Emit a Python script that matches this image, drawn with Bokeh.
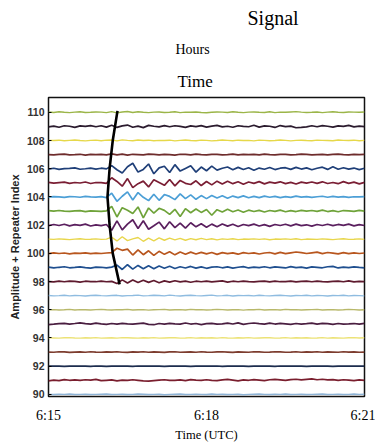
from bokeh.plotting import figure
from bokeh.models import Range1d, FixedTicker, Title
from bokeh.embed import file_html
from bokeh.resources import INLINE

# time samples (minutes after 6:15 UTC)
times = [i / 10 for i in range(61)]
x_ticks = [0, 3, 6]
x_tick_labels = {0: "6:15", 3: "6:18", 6: "6:21"}
y_ticks = [90, 92, 94, 96, 98, 100, 102, 104, 106, 108, 110]
gain = 0.012

# repeater index (trace baseline) and colour
indices = [110, 109, 108, 107, 106, 105, 104, 103, 102, 101, 100,
           99, 98, 97, 96, 95, 94, 93, 92, 91, 90]
colors = ["#9bb548", "#2b1b2e", "#e6d84a", "#6e2c2c", "#1f3f78", "#7a1e34",
          "#4c9fd6", "#6fa33a", "#5a1f5e", "#e8d64c", "#b8561e", "#1f4f8f",
          "#5e1a2e", "#8fbce0", "#b8b86a", "#4a1e40", "#ece276", "#7d3c2e",
          "#1c2c4e", "#7a1e2e", "#8fb4d6"]

t110 = [2,-1,3,0,-2,1,3,-1,0,2, 1,-2,4,-3,2,5,-1,3,0,-2, 1,2,-1,0,3,-2,1,0,2,-1,
        -3,0,2,1,-1,3,0,-2,1,2, 0,-1,3,-2,1,0,2,4,1,-1, 0,2,-2,1,3,0,-1,2,1,0, 2]
t109 = [-3,2,-5,4,1,-6,3,0,5,-2, 4,-4,7,-6,3,8,-5,2,-7,6, 1,-3,5,-2,4,0,-6,3,-1,5,
        -4,2,6,-3,1,-5,4,0,-2,7, -4,3,1,-6,5,-1,2,-8,-6,-3, 4,-2,5,1,-4,3,0,6,-3,2, -1]
t108 = [1,0,2,-1,1,3,0,-2,1,2, -1,2,3,-2,4,1,-1,3,0,2, -1,1,0,2,-2,1,3,0,-1,2,
        1,-2,0,3,1,-1,2,0,1,-2, 2,1,-1,0,3,1,-2,1,2,0, -1,2,1,0,-1,3,1,0,2,-1, 1]
t107 = [0,-2,1,3,-1,0,2,-3,1,0, 2,-1,4,-2,3,-3,2,0,-2,3, 1,-1,2,0,-3,2,1,-1,3,0,
        -2,1,2,-1,0,3,-2,1,0,2, -1,3,0,-2,1,2,-1,0,3,1, -2,0,2,-1,1,3,0,-2,1,0, 2]
t106 = [-2,3,-4,1,2,5,-3,0,4,-2,3,-1,
        18,-6,-25,12,32,-20,-4,28,-30,5,15,-22,24,-14,2,18,-20,10,
        -12,15,-8,3,10,-6,8,-5,6,-9,4,-3,7,-5,3,6,-4,8,-2,5,-6,3,9,-4,12,-3,6,-2,4,-5,3]
t105 = [3,-2,1,4,-3,2,-1,5,-4,2,1,-3,
        30,8,-20,25,-28,-5,10,-24,18,2,-15,20,-18,14,-3,-10,12,-16,
        8,-12,10,-7,9,-5,6,-8,5,-3,7,-6,4,-2,6,-5,3,-7,4,-2,5,-3,6,-4,2,-5,7,-3,4,-6,3]
t104 = [-1,2,0,-3,2,1,-2,3,0,-1,2,-4,
        22,-26,4,30,-18,26,-2,-22,16,-20,14,3,-16,18,-10,12,-14,8,
        -10,9,-6,7,-8,5,-4,6,-5,3,-4,5,-2,3,-4,2,-3,5,-1,2,-3,1,4,-2,3,-1,2,-3,1,0,2]
t103 = [2,-1,3,0,-2,1,2,-3,1,0,-2,1,
        28,-35,20,5,-15,24,-40,18,-12,16,4,-20,10,-32,14,-10,12,-8,
        9,-25,8,-6,10,-4,6,-7,5,-3,4,-6,3,-2,5,-4,2,-3,4,-1,3,-2,5,-3,2,-4,3,1,-2,4,-1]
t102 = [-3,4,-2,5,-4,3,-1,6,-5,2,-3,4,
        -30,25,-28,6,32,-20,26,-24,-4,18,-22,20,-15,12,-18,14,-10,8,
        -12,6,-9,7,-6,5,-8,4,-3,6,-5,3,-7,4,-2,5,-4,6,-3,2,-6,4,-2,5,-3,4,-1,6,-4,3,-2]
t101 = [1,-1,2,0,-2,1,3,-1,0,2,-1,1,
        12,-10,15,-8,2,10,-12,6,-9,8,-6,7,-4,5,-6,4,-3,5,
        -2,3,-4,2,-1,3,-2,1,0,2,-1,2,-3,1,0,2,-1,3,-2,1,0,-1,2,0,-2,1,3,-1,0,2,-1]
t100 = [-2,3,-1,2,-3,1,0,3,-2,1,-1,2,
        4,30,18,25,-10,20,-8,15,-12,12,-6,10,-9,8,-5,7,-4,6,
        -3,5,-6,4,-2,3,-5,4,-1,3,-4,2,5,-3,6,-2,3,8,4,-1,3,7,-2,5,1,-3,4,-2,3,-1,2]
t99 = [2,-3,1,4,-2,0,3,-1,-4,2,1,-3,2,
       14,-12,16,-10,12,-8,10,-7,9,-5,7,-6,4,-3,6,-4,3,
       -5,2,4,-2,3,-4,1,5,-3,2,-1,4,-2,3,0,-3,5,-1,2,-4,3,1,-2,4,6,-3,2,-1,3,0,-2]
t98 = [0,-2,3,-1,2,1,-3,2,0,-1, 2,-1,1,-12,10,-8,9,-6,8,-5, 6,-7,4,-3,5,-2,3,-4,2,-1,
       3,-2,1,4,-3,2,-1,3,0,-2, 1,3,-2,2,-1,0,3,-2,1,2, -1,3,0,-2,1,2,-1,4,-2,1, 0]
t97 = [1,-1,0,2,-1,1,0,-2,1,2, 0,-1,1,2,-2,0,1,3,-1,0, 2,1,-1,3,0,-2,1,2,0,-1,
       1,3,-1,0,2,-2,1,0,1,-1, 2,0,-1,1,2,0,-2,1,0,2, -1,1,0,-2,1,0,2,-1,1,0, -1]
t96 = [0,1,-1,0,2,-1,1,0,-1,1, 2,0,-1,1,0,2,-1,0,1,-2, 0,1,2,-1,0,1,-1,2,0,1,
       -1,0,2,1,-1,0,1,-2,1,0, 2,-1,0,1,-1,2,0,1,-1,0, 1,2,-1,0,1,-1,0,2,1,-1, 0]
t95 = [-4,-2,1,3,-1,2,6,1,-2,4, 0,-3,2,-1,3,0,-2,1,4,-3, -5,2,-1,3,0,-2,5,-1,2,-4,
       1,3,-2,0,4,-1,6,-3,2,5, 1,-2,4,-1,3,0,-3,2,-1,1, 4,-2,3,1,-3,2,-1,0,2,-2, 3]
t94 = [1,0,-1,1,2,0,-1,1,0,2, -1,0,1,-1,2,1,0,-1,1,0, 2,-1,0,1,1,-1,0,2,-1,1,
       0,1,-1,2,0,-1,1,0,2,-1, 0,1,1,-1,0,2,-1,1,0,1, -1,0,2,-1,1,0,-1,1,2,0, 1]
t93 = [0,-1,2,1,-2,0,1,-1,2,0, -1,1,0,2,-1,-2,1,0,2,-1, 1,0,-2,1,2,-1,0,1,-1,2,
       0,-1,1,2,0,-2,1,0,-1,2, 1,-1,0,2,1,-1,0,2,-1,1, 0,2,-1,1,0,-1,2,0,1,-1, 0]
t92 = [0,1,0,-1,0,1,0,0,-1,1, 0,-1,0,1,0,0,-1,1,0,0, 1,0,-1,0,1,0,0,-1,0,1,
       0,0,1,-1,0,0,1,0,-1,0, 1,0,0,-1,1,0,0,1,0,-1, 0,1,0,0,-1,0,1,0,0,1, 0]
t91 = [-3,1,-2,4,0,2,-1,3,1,5, -2,0,2,-4,1,-1,3,0,-3,-5, -2,1,3,-1,0,2,-2,4,1,-1,
       3,0,-2,2,5,1,-3,2,0,4, 1,-2,3,5,2,-1,4,6,2,5, 8,3,6,2,4,-1,3,1,-2,2, 0]
t90 = [0,-1,1,0,2,-1,0,1,-1,0, 1,2,-1,0,1,-1,0,2,1,-1, 0,1,-2,0,1,2,-1,0,1,0,
       -1,2,0,1,-1,0,1,-2,0,1, 2,0,-1,1,0,2,-1,0,1,-1, 0,1,2,-1,0,1,-1,0,2,0, 1]

traces = [t110, t109, t108, t107, t106, t105, t104, t103, t102, t101, t100,
          t99, t98, t97, t96, t95, t94, t93, t92, t91, t90]

# hand-drawn onset (move-out) curve
curve_t = [1.31, 1.22, 1.16, 1.12, 1.16, 1.22, 1.35]
curve_y = [110.1, 108, 106, 104, 102, 100, 97.8]

p = figure(width=375, height=444, output_backend="svg", toolbar_location=None,
           x_range=Range1d(0, 6), y_range=Range1d(89.85, 111.05),
           min_border_left=48, min_border_right=11, min_border_top=97,
           min_border_bottom=46, title="Signal")
# outermost heading
p.title.align = "left"
p.title.offset = 199
p.title.text_font = "Liberation Serif"
p.title.text_font_style = "normal"
p.title.text_font_size = "20px"
p.title.text_color = "black"
p.title.standoff = 8
# headings stacked from the frame upward
p.add_layout(Title(text="Time", align="left", offset=129,
                   text_font="Liberation Serif", text_font_style="normal",
                   text_font_size="17px", text_color="black", standoff=13), "above")
p.add_layout(Title(text="Hours", align="left", offset=127,
                   text_font="Liberation Serif", text_font_style="normal",
                   text_font_size="14px", text_color="black", standoff=14), "above")

p.xgrid.visible = False
p.ygrid.visible = False
p.background_fill_color = "white"
p.border_fill_color = "white"
p.outline_line_color = "#111111"
p.outline_line_width = 1.5

light = {"#e6d84a", "#e8d64c", "#ece276", "#8fbce0", "#8fb4d6", "#b8b86a", "#9bb548"}
for idx, col, tr in zip(indices, colors, traces):
    ys = [idx + v * gain for v in tr]
    p.line(times, ys, line_color=col, line_width=1.4 if col in light else 1.7)

p.line(curve_t, curve_y, line_color="black", line_width=2.6)

# y axis
p.yaxis.ticker = FixedTicker(ticks=y_ticks)
p.yaxis.minor_tick_line_color = None
p.yaxis.major_tick_in = 3
p.yaxis.major_tick_out = 0
p.yaxis.axis_line_color = None
p.yaxis.major_label_standoff = 4
p.yaxis.major_label_text_font = "Liberation Sans"
p.yaxis.major_label_text_font_style = "bold"
p.yaxis.major_label_text_font_size = "10.5px"
p.yaxis.major_label_text_color = "#333333"
p.yaxis.axis_label = "Amplitude + Repeater Index"
p.yaxis.axis_label_text_font = "Liberation Sans"
p.yaxis.axis_label_text_font_style = "bold"
p.yaxis.axis_label_text_font_size = "11px"
p.yaxis.axis_label_text_color = "#222222"
p.yaxis.axis_label_standoff = 3

# x axis
p.xaxis.ticker = FixedTicker(ticks=x_ticks)
p.xaxis.major_label_overrides = x_tick_labels
p.xaxis.minor_tick_line_color = None
p.xaxis.major_tick_line_color = None
p.xaxis.axis_line_color = None
p.xaxis.major_label_standoff = 5
p.xaxis.major_label_text_font = "Liberation Serif"
p.xaxis.major_label_text_font_size = "14px"
p.xaxis.major_label_text_color = "black"
p.xaxis.axis_label = "Time (UTC)"
p.xaxis.axis_label_text_font = "Liberation Serif"
p.xaxis.axis_label_text_font_style = "normal"
p.xaxis.axis_label_text_font_size = "12.5px"
p.xaxis.axis_label_text_color = "black"
p.xaxis.axis_label_standoff = 2

open("out.html", "w").write(file_html(p, INLINE))
